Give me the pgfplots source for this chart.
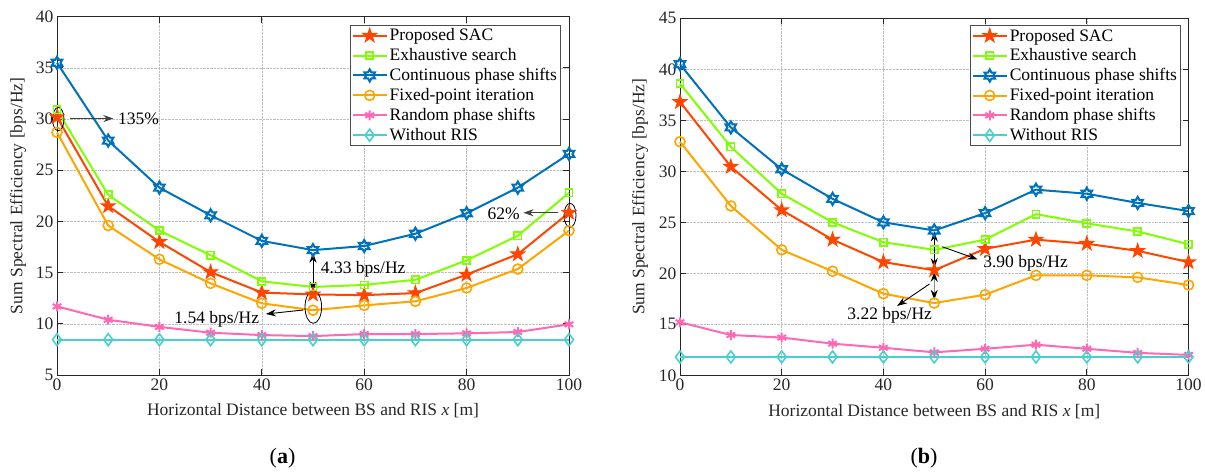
\documentclass[border=0pt]{standalone}
\usepackage{fontspec}
\setmainfont{Liberation Serif}
\usepackage{pgfplots}
\pgfplotsset{compat=1.18}
\usetikzlibrary{arrows.meta}

\definecolor{sacred}{RGB}{255,69,0}
\definecolor{exgreen}{RGB}{127,255,0}
\definecolor{cblue}{RGB}{0,114,189}
\definecolor{forange}{RGB}{255,165,0}
\definecolor{rpink}{RGB}{255,105,180}
\definecolor{wcyan}{RGB}{72,209,204}

\newcommand\fs{\fontsize{17.5}{21}\selectfont}

% filled five-pointed star
\pgfdeclareplotmark{pentagram}{%
  \pgfpathmoveto{\pgfpointpolar{90}{\pgfplotmarksize}}%
  \pgfpathlineto{\pgfpointpolar{126}{0.382\pgfplotmarksize}}%
  \pgfpathlineto{\pgfpointpolar{162}{\pgfplotmarksize}}%
  \pgfpathlineto{\pgfpointpolar{198}{0.382\pgfplotmarksize}}%
  \pgfpathlineto{\pgfpointpolar{234}{\pgfplotmarksize}}%
  \pgfpathlineto{\pgfpointpolar{270}{0.382\pgfplotmarksize}}%
  \pgfpathlineto{\pgfpointpolar{306}{\pgfplotmarksize}}%
  \pgfpathlineto{\pgfpointpolar{342}{0.382\pgfplotmarksize}}%
  \pgfpathlineto{\pgfpointpolar{18}{\pgfplotmarksize}}%
  \pgfpathlineto{\pgfpointpolar{54}{0.382\pgfplotmarksize}}%
  \pgfpathclose
  \pgfusepathqfillstroke
}
% outlined six-pointed star
\pgfdeclareplotmark{hexagram}{%
  \pgfpathmoveto{\pgfpointpolar{90}{\pgfplotmarksize}}%
  \pgfpathlineto{\pgfpointpolar{120}{0.577\pgfplotmarksize}}%
  \pgfpathlineto{\pgfpointpolar{150}{\pgfplotmarksize}}%
  \pgfpathlineto{\pgfpointpolar{180}{0.577\pgfplotmarksize}}%
  \pgfpathlineto{\pgfpointpolar{210}{\pgfplotmarksize}}%
  \pgfpathlineto{\pgfpointpolar{240}{0.577\pgfplotmarksize}}%
  \pgfpathlineto{\pgfpointpolar{270}{\pgfplotmarksize}}%
  \pgfpathlineto{\pgfpointpolar{300}{0.577\pgfplotmarksize}}%
  \pgfpathlineto{\pgfpointpolar{330}{\pgfplotmarksize}}%
  \pgfpathlineto{\pgfpointpolar{0}{0.577\pgfplotmarksize}}%
  \pgfpathlineto{\pgfpointpolar{30}{\pgfplotmarksize}}%
  \pgfpathlineto{\pgfpointpolar{60}{0.577\pgfplotmarksize}}%
  \pgfpathclose
  \pgfusepathqstroke
}

\pgfplotsset{
  seaxis/.style={
    scale only axis, clip=false,
    xmin=0, xmax=100, xtick={0,20,...,100},
    grid=major,
    major grid style={black!25, densely dotted, line width=0.6pt},
    axis line style={line width=0.9pt, black!85},
    tick style={line width=0.9pt, black!85},
    tick align=inside, major tick length=6pt,
    tick label style={font=\fs, text=black!85},
    /pgf/number format/assume math mode=true,
    label style={font=\fs, text=black!85},
    xlabel={Horizontal Distance between BS and RIS \textit{x} [m]},
    ylabel={Sum Spectral Efficiency [bps/Hz]},
    xlabel style={at={(axis description cs:0.5,-0.1006)}, anchor=center},
    legend cell align=left,
    legend style={font=\fs, draw=black!70, line width=0.8pt, inner sep=1.5pt,
      anchor=north east, row sep=2.2pt},
    legend image code/.code={%
      \draw[mark repeat=2, mark phase=2] plot coordinates {(0pt,0pt) (17pt,0pt) (34pt,0pt)};},
    every axis plot/.append style={line width=2pt},
  },
  sac/.style={sacred, mark=pentagram, mark size=7.3pt, mark options={fill=sacred, line width=1pt}},
  exs/.style={exgreen, mark=square, mark size=3.6pt, mark options={line width=1.6pt}},
  cps/.style={cblue, mark=hexagram, mark size=6pt, mark options={line width=2.1pt}},
  fpi/.style={forange, mark=o, mark size=5pt, mark options={line width=1.6pt}},
  rps/.style={rpink, mark=asterisk, mark size=5pt, mark options={line width=2pt}},
  wor/.style={wcyan, mark=diamond, mark size=6pt, mark options={line width=1.6pt}},
}

\tikzset{
  ahead/.style={-{Stealth[length=10pt,width=7pt]}, line width=0.9pt},
  dhead/.style={{Stealth[length=10pt,width=7pt]}-{Stealth[length=10pt,width=7pt]}, line width=0.9pt},
}

\begin{document}
\begin{tikzpicture}
\path[use as bounding box] (0pt,0pt) rectangle (1205pt,-473pt);

% ---------------- (a) ----------------
\begin{axis}[seaxis,
  at={(57pt,-375pt)}, anchor=south west,
  width=512pt, height=358.3pt,
  ymin=5, ymax=40, ytick={5,10,...,40},
  ylabel style={at={(axis description cs:-0.0762,0.5)}, anchor=center},
  legend style={at={(rel axis cs:0.984,0.977)}},
]
\addplot[sac] coordinates {(0,30.2) (10,21.5) (20,18.0) (30,15.05) (40,13.05) (50,12.87) (60,12.8) (70,13.0) (80,14.8) (90,16.8) (100,20.85)};
\addlegendentry{Proposed SAC}
\addplot[exs] coordinates {(0,30.9) (10,22.6) (20,19.1) (30,16.7) (40,14.15) (50,13.6) (60,13.8) (70,14.3) (80,16.2) (90,18.6) (100,22.8)};
\addlegendentry{Exhaustive search}
\addplot[cps] coordinates {(0,35.5) (10,27.9) (20,23.3) (30,20.6) (40,18.1) (50,17.2) (60,17.6) (70,18.8) (80,20.8) (90,23.3) (100,26.6)};
\addlegendentry{Continuous phase shifts}
\addplot[fpi] coordinates {(0,28.7) (10,19.6) (20,16.3) (30,13.95) (40,12.0) (50,11.33) (60,11.8) (70,12.2) (80,13.5) (90,15.35) (100,19.1)};
\addlegendentry{Fixed-point iteration}
\addplot[rps] coordinates {(0,11.7) (10,10.4) (20,9.7) (30,9.13) (40,8.9) (50,8.8) (60,9.0) (70,9.0) (80,9.07) (90,9.2) (100,9.95)};
\addlegendentry{Random phase shifts}
\addplot[wor] coordinates {(0,8.45) (10,8.45) (20,8.45) (30,8.45) (40,8.45) (50,8.45) (60,8.45) (70,8.45) (80,8.45) (90,8.45) (100,8.45)};
\addlegendentry{Without RIS}

% annotations
\draw[line width=0.8pt] (axis cs:0.25,30.0) ellipse [x radius=5.7pt, y radius=11.7pt];
\draw[ahead, draw=black!75] (axis cs:2.5,30.05) -- (axis cs:11.0,30.05);
\node[font=\fs, anchor=west, inner sep=0pt] at (axis cs:11.9,30.0) {135\%};

\draw[line width=0.8pt] (axis cs:100.2,20.6) ellipse [x radius=6pt, y radius=12pt];
\draw[ahead, draw=black!75] (axis cs:97.9,20.85) -- (axis cs:91.1,20.85);
\node[font=\fs, anchor=east, inner sep=0pt] at (axis cs:90.4,20.75) {62\%};

\draw[dhead] (axis cs:50,16.95) -- (axis cs:50,13.15);
\node[font=\fs, anchor=west, inner sep=0pt] at (axis cs:51.5,15.35) {4.33 bps/Hz};

\draw[line width=0.8pt] (axis cs:50.06,11.64) ellipse [x radius=8.3pt, y radius=16.3pt];
\draw[ahead] (axis cs:48.1,11.35) -- (axis cs:40.8,10.96);
\node[font=\fs, anchor=east, inner sep=0pt] at (axis cs:39.5,10.47) {1.54 bps/Hz};
\end{axis}

% ---------------- (b) ----------------
\begin{axis}[seaxis,
  at={(680pt,-375.3pt)}, anchor=south west,
  width=508.5pt, height=357pt,
  ymin=10, ymax=45, ytick={10,15,...,45},
  ylabel style={at={(axis description cs:-0.0787,0.5)}, anchor=center},
  legend style={at={(rel axis cs:0.985,0.981)}},
]
\addplot[sac] coordinates {(0,36.8) (10,30.45) (20,26.2) (30,23.3) (40,21.1) (50,20.3) (60,22.4) (70,23.3) (80,22.9) (90,22.2) (100,21.1)};
\addlegendentry{Proposed SAC}
\addplot[exs] coordinates {(0,38.6) (10,32.4) (20,27.8) (30,25.0) (40,23.05) (50,22.3) (60,23.3) (70,25.8) (80,24.9) (90,24.1) (100,22.85)};
\addlegendentry{Exhaustive search}
\addplot[cps] coordinates {(0,40.5) (10,34.3) (20,30.2) (30,27.3) (40,25.0) (50,24.2) (60,25.9) (70,28.2) (80,27.8) (90,26.9) (100,26.1)};
\addlegendentry{Continuous phase shifts}
\addplot[fpi] coordinates {(0,32.9) (10,26.6) (20,22.3) (30,20.2) (40,18.0) (50,17.08) (60,17.9) (70,19.8) (80,19.8) (90,19.6) (100,18.85)};
\addlegendentry{Fixed-point iteration}
\addplot[rps] coordinates {(0,15.2) (10,13.95) (20,13.7) (30,13.1) (40,12.7) (50,12.25) (60,12.6) (70,13.0) (80,12.6) (90,12.2) (100,12.0)};
\addlegendentry{Random phase shifts}
\addplot[wor] coordinates {(0,11.8) (10,11.8) (20,11.8) (30,11.8) (40,11.8) (50,11.8) (60,11.8) (70,11.8) (80,11.8) (90,11.8) (100,11.8)};
\addlegendentry{Without RIS}

% annotations
\draw[dhead] (axis cs:50,24.1) -- (axis cs:50,20.5);
\draw[dhead, draw=black!45, {Stealth[length=10pt,width=7pt,black]}-{Stealth[length=10pt,width=7pt,black]}] (axis cs:50,20.15) -- (axis cs:50,17.4);
\draw[ahead] (axis cs:51.6,22.6) -- (axis cs:58.5,21.37);
\node[font=\fs, anchor=west, inner sep=0pt] at (axis cs:59.6,20.98) {3.90 bps/Hz};
\draw[ahead] (axis cs:49.06,18.95) -- (axis cs:42.7,16.8);
\node[font=\fs, anchor=east, inner sep=0pt] at (axis cs:49.6,15.9) {3.22 bps/Hz};
\end{axis}

\node[font=\fontsize{22}{26}\selectfont] at (282.5pt,-458pt) {(\textbf{a})};
\node[font=\fontsize{22}{26}\selectfont] at (924pt,-458pt) {(\textbf{b})};
\end{tikzpicture}
\end{document}
